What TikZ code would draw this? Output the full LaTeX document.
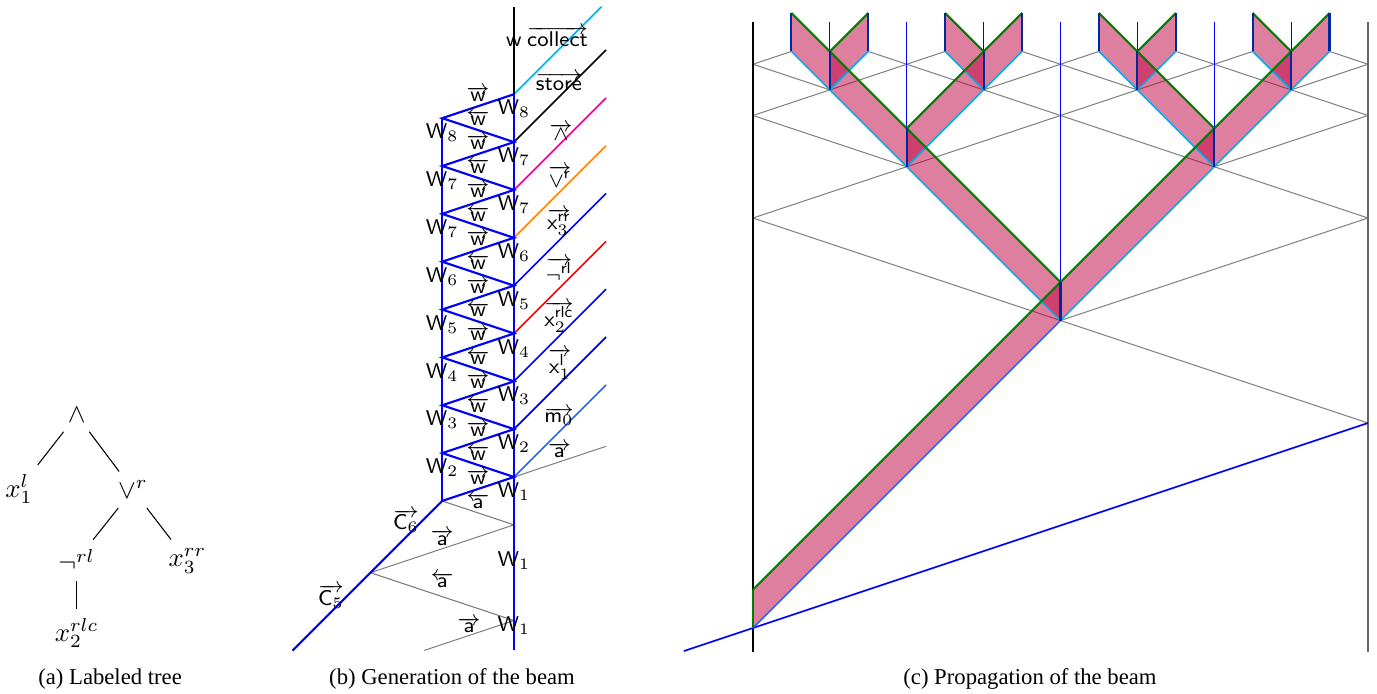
\documentclass[tikz,border=0pt]{standalone}
\usepackage{fontspec}
\newfontfamily\capfont{Liberation Serif}
\usetikzlibrary{positioning}
\definecolor{beamblue}{RGB}{40,100,255}
\definecolor{beamnavy}{RGB}{0,40,160}

\begin{document}
\begin{tikzpicture}[
  lab/.style={font=\footnotesize, inner sep=1pt},
  tnode/.style={font=\normalsize},
  tedge/.style={line width=0.4pt},
  captext/.style={font=\capfont\fontsize{8.5}{10}\selectfont},
  zig/.style={blue, line width=0.8pt},
  diag/.style={line width=0.6pt},
  sig/.style={gray, line width=0.4pt},
  guide/.style={blue, line width=0.4pt},
  beam/.style={fill=purple, fill opacity=0.5},
  beamtop/.style={green!50!black, line width=0.8pt},
  beambot/.style={cyan, line width=0.6pt},
  beamend/.style={beamnavy, line width=0.8pt}
]
  \useasboundingbox (0,0) rectangle (18.138,9.141);

  % (a) Labeled tree
  \node[tnode] (and) at (1.01,3.675) {$\wedge$};
  \node[tnode] (x1) at (0.25,2.70) {$x_1^l$};
  \node[tnode] (or) at (1.75,2.69) {$\vee^r$};
  \node[tnode] (neg) at (1.01,1.76) {$\neg^{rl}$};
  \node[tnode] (x3) at (2.47,1.75) {$x_3^{rr}$};
  \node[tnode] (x2) at (1.01,0.80) {$x_2^{rlc}$};
  \draw[tedge] (and) -- (x1);
  \draw[tedge] (and) -- (or);
  \draw[tedge] (or) -- (neg);
  \draw[tedge] (or) -- (x3);
  \draw[tedge] (neg) -- (x2);
  \node[captext] (capa) at (1.45,0.20) {(a) Labeled tree};

  % (b) Generation of the beam
  \begin{scope}[shift={(6.770,2.858)}, x=0.3151cm, y=0.3151cm]
    \draw[sig] (-3,-1) -- (0,-2) -- (-6,-4) -- (0,-6) -- (-3.75,-7.25);
    \draw[sig] (0,0) -- (3.85,1.283);
    \foreach \k/\c in {0/beamblue,1/blue,2/blue,3/red,4/blue,5/orange,6/magenta,7/black}
      \draw[\c, diag] (0,2*\k) -- ++(3.85,3.85);
    \draw[cyan, diag] (0,16) -- (3.66,19.66);
    \draw[black, line width=0.6pt] (0,16) -- (0,19.66);
    \draw[zig] (0,-7.25) -- (0,16);
    \draw[zig] (-3,-1) -- (-3,15);
    \draw[zig] (-9.26,-7.26) -- (-3,-1);
    \draw[zig] (-3,-1) \foreach \k in {0,...,7} { -- (0,2*\k) -- (-3,2*\k+1) } -- (0,16);
    % vertex labels
    \foreach \k/\n in {0/1,1/2,2/3,3/4,4/5,5/6,6/7,7/7,8/8}
      \node[lab, below=1pt] (wr\k) at (0,2*\k) {$\mathsf{W}_{\n}$};
    \foreach \k/\n in {1/2,2/3,3/4,4/5,5/6,6/7,7/7,8/8}
      \node[lab, below=1pt] (wl\k) at (-3,2*\k-1) {$\mathsf{W}_{\n}$};
    \foreach \k in {0,...,8}
      \node[lab] (wf\k) at (-1.5,2*\k) {$\overrightarrow{\mathsf{w}}$};
    \foreach \k in {1,...,8}
      \node[lab] (wb\k) at (-1.5,2*\k-1) {$\overleftarrow{\mathsf{w}}$};
    \node[lab] (wmid) at (0,-3.5) {$\mathsf{W}_1$};
    \node[lab] (wlow) at (0,-6.2) {$\mathsf{W}_1$};
    \node[lab] (ab1) at (-1.5,-1) {$\overleftarrow{\mathsf{a}}$};
    \node[lab] (af1) at (-3,-2.53) {$\overrightarrow{\mathsf{a}}$};
    \node[lab] (ab2) at (-3,-4.3) {$\overleftarrow{\mathsf{a}}$};
    \node[lab] (af2) at (-1.88,-6.19) {$\overrightarrow{\mathsf{a}}$};
    \node[lab] (c6) at (-4.52,-1.84) {$\overrightarrow{\mathsf{C}_6}$};
    \node[lab] (c5) at (-7.65,-5.0) {$\overrightarrow{\mathsf{C}_5}$};
    % signal labels
    \node[lab] (lw) at (0,18.2) {$\mathsf{w}$};
    \node[lab] (lcollect) at (1.82,18.4) {$\overrightarrow{\mathsf{collect}}$};
    \node[lab] (lstore) at (1.88,16.53) {$\overrightarrow{\mathsf{store}}$};
    \node[lab] (land) at (1.96,14.42) {$\overrightarrow{\wedge}$};
    \node[lab] (lor) at (1.92,12.56) {$\overrightarrow{\vee^{\mathsf{r}}}$};
    \node[lab] (lxc) at (1.88,10.66) {$\overrightarrow{\mathsf{x}_3^{\mathsf{rr}}}$};
    \node[lab] (lneg) at (1.88,8.65) {$\overrightarrow{\neg^{\mathsf{rl}}}$};
    \node[lab] (lxb) at (1.88,6.7) {$\overrightarrow{\mathsf{x}_2^{\mathsf{rlc}}}$};
    \node[lab] (lxa) at (1.92,4.72) {$\overrightarrow{\mathsf{x}_1^{\mathsf{l}}}$};
    \node[lab] (lm) at (1.88,2.53) {$\overrightarrow{\mathsf{m}_0}$};
    \node[lab] (la) at (1.9,1.13) {$\overrightarrow{\mathsf{a}}$};
  \end{scope}
  \node[captext] (capb) at (5.954,0.20) {(b) Generation of the beam};

  % (c) Propagation of the beam
  \begin{scope}[shift={(9.918,0.869)}, x=0.5063cm, y=0.5063cm]
    \foreach \xa/\ya/\xb/\yb in {16/5.3333/0/10.6667, 8/8/16/10.6667, 0/10.6667/13/15,
        16/10.6667/3/15, 0/13.3333/5/15, 16/13.3333/11/15, 0/13.3333/4/12, 16/13.3333/12/12,
        0/14.6667/1/15, 16/14.6667/15/15, 0/14.6667/2/14, 16/14.6667/14/14, 6/14/9/15, 10/14/7/15}
      \draw[sig] (\xa,\ya) -- (\xb,\yb);
    \draw[guide] (8,9) -- (8,15.76);
    \foreach \xa/\ya in {4/13,12/13,2/15,6/15,10/15,14/15}
      \draw[guide] (\xa,\ya) -- (\xa,15.76);
    \draw[line width=0.5pt] (0,-0.62) -- (0,15.76);
    \draw[black!60, line width=0.5pt] (16,-0.62) -- (16,15.76);
    \draw[blue, line width=0.6pt] (-1.8,-0.6) -- (16,5.3333);
    % beam segments
    \foreach \xa/\ya/\xb/\yb in {0/0/8/8, 8/8/12/12, 8/8/4/12, 12/12/14/14, 12/12/10/14,
        4/12/2/14, 4/12/6/14, 14/14/15/15, 14/14/13/15, 10/14/9/15, 10/14/11/15,
        2/14/1/15, 2/14/3/15, 6/14/7/15, 6/14/5/15}
      \fill[beam] (\xa,\ya) -- (\xb,\yb) -- (\xb,\yb+1) -- (\xa,\ya+1) -- cycle;
    \foreach \xa/\ya/\xb/\yb in {8/8/12/12, 8/8/4/12, 12/12/14/14, 12/12/10/14,
        4/12/2/14, 4/12/6/14, 14/14/15/15, 14/14/13/15, 10/14/9/15, 10/14/11/15,
        2/14/1/15, 2/14/3/15, 6/14/7/15, 6/14/5/15}
      \draw[beambot] (\xa,\ya) -- (\xb,\yb);
    \draw[beamblue, line width=0.6pt] (0,0) -- (8,8);
    \foreach \xa/\ya/\xb/\yb in {0/1/15/16, 8/9/1/16, 4/13/7/16, 6/15/5/16, 2/15/3/16,
        12/13/9/16, 10/15/11/16, 14/15/13/16}
      \draw[beamtop] (\xa,\ya) -- (\xb,\yb);
    \draw[beamtop] (0,0) -- (0,1);
    \foreach \xa/\ya in {8/8,12/12,4/12,14/14,10/14,2/14,6/14,1/15,3/15,5/15,7/15,9/15,11/15,13/15,15/15}
      \draw[beamend] (\xa,\ya) -- (\xa,\ya+1);
  \end{scope}
  \node[captext] (capc) at (13.567,0.20) {(c) Propagation of the beam};
\end{tikzpicture}
\end{document}
